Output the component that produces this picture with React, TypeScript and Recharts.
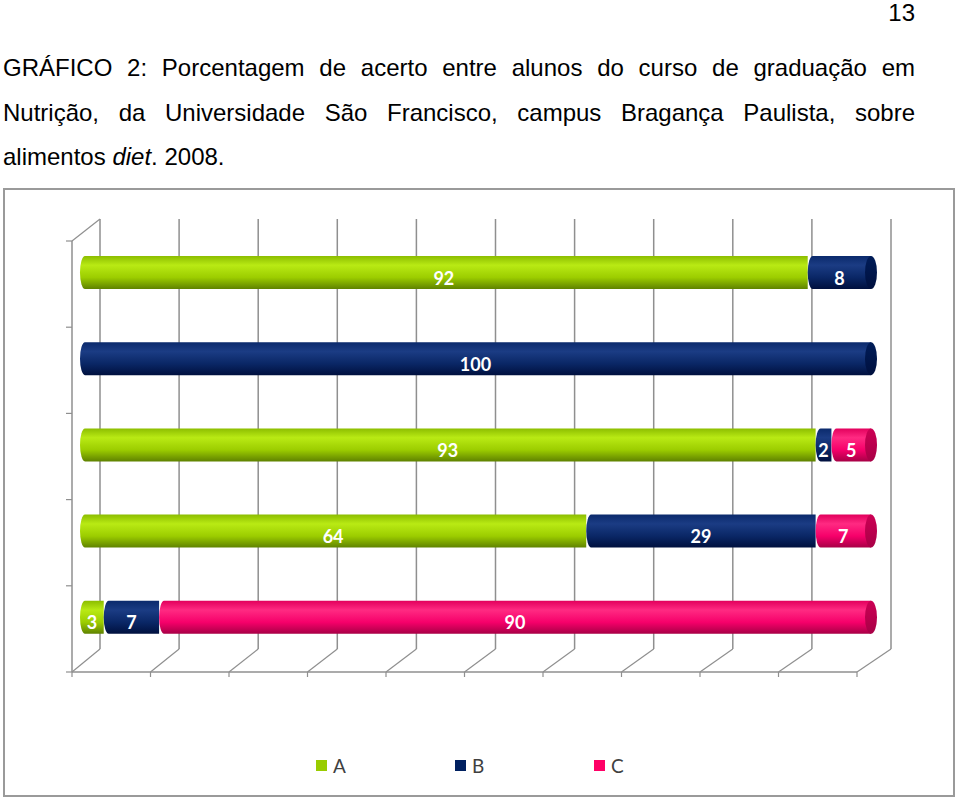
import * as R from 'recharts'
import { Bar, BarChart, Customized, LabelList, Legend, XAxis, YAxis } from 'recharts'

const categories = ['Q1', 'Q2', 'Q3', 'Q4', 'Q5']
const seriesA = [92, 0, 93, 64, 3]
const seriesB = [8, 100, 2, 29, 7]
const seriesC = [0, 0, 5, 7, 90]
const seriesKeys = ['A', 'B', 'C']

const data = categories.map((name, i) => ({ name, A: seriesA[i], B: seriesB[i], C: seriesC[i] }))

const W = 952
const H = 609
const MARGIN = { top: 41, right: 84, bottom: 137, left: 77 }

const COLORS: Record<string, { hi: string; mid: string; lo: string; top: string; cap: string; legend: string }> = {
  A: { top: '#8cbd00', hi: '#b9ea14', mid: '#9ccd00', lo: '#5f8200', cap: '#86b000', legend: '#99cc00' },
  B: { top: '#0b2a6c', hi: '#1b3c84', mid: '#0a2766', lo: '#00103e', cap: '#001c58', legend: '#002060' },
  C: { top: '#e2005c', hi: '#ff2a82', mid: '#f6006a', lo: '#a80046', cap: '#cc0054', legend: '#ff0066' },
}

const usePlot: () => any = (R as any).usePlotArea ?? (() => null)

// fake 3D walls: back gridlines, left wall and floor with its diagonals
function Frame3D() {
  const p = usePlot()
  const L = p?.x ?? MARGIN.left
  const T = p?.y ?? MARGIN.top
  const pw = p?.width ?? W - MARGIN.left - MARGIN.right
  const ph = p?.height ?? H - MARGIN.top - MARGIN.bottom
  const B = T + ph
  const stroke = '#8f8f8f'
  const fw = pw - 6
  const lines: JSX.Element[] = []
  for (let k = 0; k <= 10; k++) {
    const bx = L + 20 + (k * pw) / 10
    const fx = L - 8 + (k * fw) / 10
    lines.push(<line key={'g' + k} x1={bx} y1={T - 10} x2={bx} y2={B - 11} stroke={stroke} strokeWidth={1.5} />)
    lines.push(<line key={'d' + k} x1={fx} y1={B + 12} x2={bx} y2={B - 11} stroke={stroke} strokeWidth={1.2} />)
    lines.push(<line key={'t' + k} x1={fx} y1={B + 12} x2={fx} y2={B + 17} stroke={stroke} strokeWidth={1.2} />)
  }
  for (let i = 0; i <= categories.length; i++) {
    const y = T + 12 + (i * ph) / categories.length
    lines.push(<line key={'l' + i} x1={L - 14} y1={y} x2={L - 8} y2={y} stroke={stroke} strokeWidth={1.2} />)
  }
  return (
    <g>
      {lines}
      <line x1={L - 8} y1={T + 12} x2={L - 8} y2={B + 12} stroke={stroke} strokeWidth={1.5} />
      <line x1={L - 8} y1={T + 12} x2={L + 20} y2={T - 10} stroke={stroke} strokeWidth={1.2} />
      <line x1={L - 8} y1={B + 12} x2={L - 8 + fw} y2={B + 12} stroke={stroke} strokeWidth={1.5} />
    </g>
  )
}

function makeShape(key: string) {
  return (props: any) => {
    const { x, y, width, height, payload } = props
    if (!width || width <= 0) return <g />
    const idx = seriesKeys.indexOf(key)
    const isLast = seriesKeys.slice(idx + 1).every((k) => !payload?.[k])
    const r = 5
    const ry = height / 2
    const d = `M${x + r},${y} H${x + width} V${y + height} H${x + r} A${r},${ry} 0 0 1 ${x + r},${y} Z`
    return (
      <g>
        <path d={d} fill={`url(#grad${key})`} />
        {isLast && <ellipse cx={x + width} cy={y + ry} rx={r + 1} ry={ry} fill={`url(#cap${key})`} />}
      </g>
    )
  }
}

function renderLabel(props: any) {
  const vb = props.viewBox ?? props
  const { x, y, width, height } = vb
  const value = props.value
  if (!value) return null
  return (
    <text
      x={x + width / 2}
      y={y + height / 2 + 12}
      textAnchor="middle"
      fill="#ffffff"
      fontFamily="Lato, 'Open Sans', sans-serif"
      fontWeight="bold"
      fontSize={18}
    >
      {value}
    </text>
  )
}

function LegendContent() {
  return (
    <div style={{ display: 'flex', paddingLeft: 313, fontFamily: "Lato, 'Open Sans', sans-serif", fontSize: 19, color: '#404040' }}>
      {seriesKeys.map((k) => (
        <div key={k} style={{ width: 139, display: 'flex', alignItems: 'center', height: 22 }}>
          <span style={{ width: 11, height: 11, background: COLORS[k].legend, marginRight: 6, display: 'inline-block' }} />
          <span>{k}</span>
        </div>
      ))}
    </div>
  )
}

const titleFont = "'Liberation Sans', Arial, sans-serif"

export default function App() {
  return (
    <div>
      <div style={{ position: 'absolute', left: 855, top: 0, width: 60, textAlign: 'right', fontFamily: titleFont, fontSize: 24, lineHeight: '25px' }}>
        13
      </div>
      <div style={{ position: 'absolute', left: 3, top: 46, width: 912, fontFamily: titleFont, fontSize: 24, lineHeight: '44.5px', color: '#000' }}>
        <div style={{ textAlign: 'justify', textAlignLast: 'justify' }}>
          GRÁFICO 2: Porcentagem de acerto entre alunos do curso de graduação em
        </div>
        <div style={{ textAlign: 'justify', textAlignLast: 'justify' }}>
          Nutrição, da Universidade São Francisco, campus Bragança Paulista, sobre
        </div>
        <div>
          alimentos <i>diet</i>. 2008.
        </div>
      </div>
      <div style={{ position: 'absolute', left: 3, top: 188, width: W, height: H, boxSizing: 'border-box', border: '2px solid #9a9a9a' }} />
      <div style={{ position: 'absolute', left: 3, top: 188, width: W, height: H }}>
        <BarChart width={W} height={H} data={data} layout="vertical" margin={MARGIN} barSize={33}>
          <defs>
            {seriesKeys.map((k) => (
              <linearGradient key={k} id={`grad${k}`} x1="0" y1="0" x2="0" y2="1">
                <stop offset="0%" stopColor={COLORS[k].top} />
                <stop offset="28%" stopColor={COLORS[k].hi} />
                <stop offset="65%" stopColor={COLORS[k].mid} />
                <stop offset="100%" stopColor={COLORS[k].lo} />
              </linearGradient>
            ))}
            {seriesKeys.map((k) => (
              <linearGradient key={'c' + k} id={`cap${k}`} x1="0" y1="0" x2="0" y2="1">
                <stop offset="0%" stopColor={COLORS[k].cap} />
                <stop offset="100%" stopColor={COLORS[k].lo} />
              </linearGradient>
            ))}
          </defs>
          <Customized component={Frame3D} />
          <XAxis type="number" domain={[0, 100]} hide />
          <YAxis type="category" dataKey="name" hide />
          <Legend layout="horizontal" verticalAlign="middle" content={LegendContent} wrapperStyle={{ top: 566, left: 0, width: W }} />
          {seriesKeys.map((k) => (
            <Bar key={k} dataKey={k} stackId="s" fill={COLORS[k].mid} shape={makeShape(k)} isAnimationActive={false}>
              <LabelList dataKey={k} content={renderLabel} />
            </Bar>
          ))}
        </BarChart>
      </div>
    </div>
  )
}
